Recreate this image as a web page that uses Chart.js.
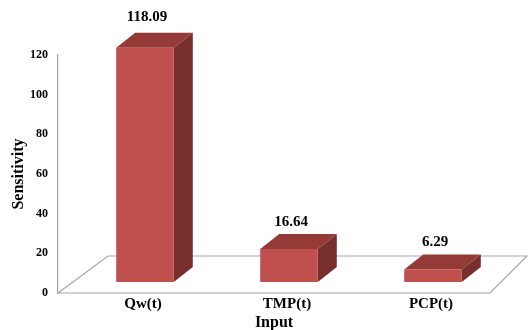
<!DOCTYPE html>
<html>
<head>
<meta charset="utf-8">
<script src="https://cdn.jsdelivr.net/npm/chart.js@4.4.1/dist/chart.umd.min.js"></script>
<style>
html,body{margin:0;padding:0;background:#fff;}
#wrap{width:530px;height:330px;position:relative;}
</style>
</head>
<body>
<div id="wrap"><canvas id="c" width="530" height="330"></canvas></div>
<script>
const categories = ["Qw(t)", "TMP(t)", "PCP(t)"];
const sensitivity = [118.09, 16.64, 6.29];
const yTicks = [0, 20, 40, 60, 80, 100, 120];

const FRONT = '#C0504D', TOP = '#943A37', SIDE = '#772E2C';
const BAR_DX = 15, BAR_DY = -11;     // bar position inside floor depth
const DEPTH_DX = 19, DEPTH_DY = -15; // bar depth
const FLOOR_L = 50, FLOOR_R = 37, FLOOR_DY = -37;
const SERIF = '"Liberation Serif","Times New Roman",serif';

const threeD = {
  id: 'threeD',
  beforeDatasetsDraw(chart) {
    const ctx = chart.ctx, a = chart.chartArea;
    ctx.save();
    ctx.strokeStyle = '#A6A6A6';
    ctx.lineWidth = 1.2;
    ctx.beginPath();
    ctx.moveTo(a.left, a.bottom);
    ctx.lineTo(a.left + FLOOR_L, a.bottom + FLOOR_DY);
    ctx.lineTo(a.right + FLOOR_R, a.bottom + FLOOR_DY);
    ctx.lineTo(a.right, a.bottom);
    ctx.closePath();
    ctx.stroke();
    ctx.restore();
    const meta = chart.getDatasetMeta(0);
    ctx.save();
    ctx.translate(BAR_DX, BAR_DY);
    meta.data.forEach(bar => {
      const x0 = bar.x - bar.width / 2, x1 = bar.x + bar.width / 2;
      const yt = bar.y, yb = bar.base;
      ctx.fillStyle = SIDE;
      ctx.beginPath();
      ctx.moveTo(x1, yt); ctx.lineTo(x1 + DEPTH_DX, yt + DEPTH_DY);
      ctx.lineTo(x1 + DEPTH_DX, yb + DEPTH_DY); ctx.lineTo(x1, yb);
      ctx.closePath(); ctx.fill();
      ctx.fillStyle = TOP;
      ctx.beginPath();
      ctx.moveTo(x0, yt); ctx.lineTo(x0 + DEPTH_DX, yt + DEPTH_DY);
      ctx.lineTo(x1 + DEPTH_DX, yt + DEPTH_DY); ctx.lineTo(x1, yt);
      ctx.closePath(); ctx.fill();
    });
    ctx.restore();
    ctx.save();
    ctx.translate(BAR_DX, BAR_DY);
  },
  afterDatasetsDraw(chart) {
    const ctx = chart.ctx;
    ctx.restore();
    const meta = chart.getDatasetMeta(0);
    ctx.save();
    ctx.fillStyle = '#000';
    ctx.font = 'bold 15px ' + SERIF;
    ctx.textAlign = 'center';
    ctx.textBaseline = 'middle';
    meta.data.forEach((bar, i) => {
      const lift = bar.base - bar.y > 100 ? 31 : 27;
      ctx.fillText(sensitivity[i].toFixed(2), bar.x + BAR_DX + 2, bar.y + BAR_DY - lift);
    });
    ctx.restore();
  }
};

new Chart(document.getElementById('c'), {
  type: 'bar',
  data: {
    labels: categories,
    datasets: [{
      data: sensitivity,
      backgroundColor: FRONT,
      borderWidth: 0,
      barPercentage: 0.4,
      categoryPercentage: 1.0,
      clip: false
    }]
  },
  options: {
    responsive: false,
    animation: false,
    events: [],
    layout: { padding: { top: 55, right: 40, left: 0, bottom: 0 } },
    plugins: { legend: { display: false }, tooltip: { enabled: false } },
    scales: {
      x: {
        grid: { display: false, drawTicks: false },
        border: { display: false },
        ticks: { color: '#000', font: { family: SERIF, size: 15, weight: 'bold' }, padding: 2, labelOffset: 13 },
        title: { display: true, text: 'Input', color: '#000', font: { family: SERIF, size: 16, weight: 'bold' }, padding: { top: 0, bottom: -2 } },
        afterFit(s) { s.height = 37; }
      },
      y: {
        min: 0, max: 120,
        afterBuildTicks(s) { s.ticks = yTicks.map(v => ({ value: v })); },
        grid: { display: false, drawTicks: false },
        border: { display: true, color: '#A6A6A6', width: 1.2 },
        ticks: { color: '#000', font: { family: SERIF, size: 12, weight: 'bold' }, padding: 10 },
        title: { display: true, text: 'Sensitivity', color: '#000', font: { family: SERIF, size: 16, weight: 'bold' }, padding: { top: 9, bottom: 0 } },
        afterFit(s) { s.width = 58; }
      }
    }
  },
  plugins: [threeD]
});
</script>
</body>
</html>
